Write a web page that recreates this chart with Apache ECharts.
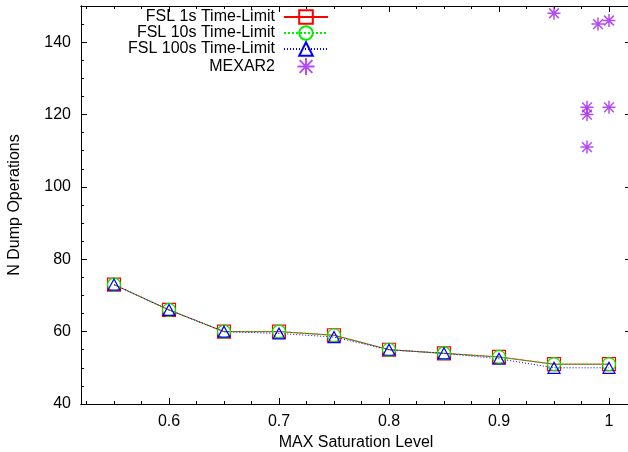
<!DOCTYPE html>
<html>
<head>
<meta charset="utf-8">
<script src="https://cdn.jsdelivr.net/npm/echarts@6/dist/echarts.min.js"></script>
<style>
  html, body { margin: 0; padding: 0; background: #fff; }
  #chart { width: 628px; height: 452px; }
</style>
</head>
<body>
<div id="chart"></div>
<script>
// saturation levels
var xValues = [0.55, 0.6, 0.65, 0.7, 0.75, 0.8, 0.85, 0.9, 0.95, 1];
var fsl1s   = [73, 66, 60, 60, 59, 55, 54, 53, 51, 51];
var fsl10s  = [73, 66, 60, 60, 59, 55, 54, 53, 51, 51];
var fsl100s = [73, 66, 60, 59.5, 58.5, 55, 54, 52.5, 50, 50];

var mexarX = [0.95, 0.98, 0.98, 0.98, 0.99, 1, 1];
var mexarY = [148, 122, 120, 111, 145, 146, 122];

var xMajorTicks = [0.6, 0.7, 0.8, 0.9, 1];
var xMinorTicks = [0.525, 0.55, 0.575, 0.625, 0.65, 0.675, 0.725, 0.75, 0.775,
    0.825, 0.85, 0.875, 0.925, 0.95, 0.975, 1.0];
var yMajorTicks = [40, 60, 80, 100, 120, 140];

var FONT = 'Liberation Sans, Arial, sans-serif';

function pairs(xs, ys) {
    var out = [];
    for (var i = 0; i < xs.length; i++) out.push([xs[i], ys[i]]);
    return out;
}

function xAxisDef(pos, ticks, len, showLabel) {
    return {
        type: 'value', position: pos, offset: 0,
        min: 0.52, max: 1.02,
        axisLine: { show: true, lineStyle: { color: '#000', width: 1 } },
        axisTick: { show: true, inside: true, length: len, customValues: ticks,
            lineStyle: { color: '#000' } },
        axisLabel: { show: showLabel, customValues: xMajorTicks, margin: 10,
            color: '#000', fontSize: 16, fontFamily: FONT },
        splitLine: { show: false }
    };
}

function yAxisDef(pos, len, showLabel, minor) {
    var ax = {
        type: 'value', position: pos, offset: 0,
        min: 40, max: 150,
        axisLine: { show: true, lineStyle: { color: '#000', width: 1 } },
        axisTick: { show: true, inside: true, length: len, lineStyle: { color: '#000' } },
        axisLabel: { show: showLabel, customValues: yMajorTicks, margin: 10,
            color: '#000', fontSize: 16, fontFamily: FONT },
        splitLine: { show: false }
    };
    if (minor) ax.interval = 5;
    else ax.axisTick.customValues = yMajorTicks;
    return ax;
}

var myChart = echarts.init(document.getElementById('chart'));

var xMain = xAxisDef('bottom', xMajorTicks, 6, true);
xMain.name = 'MAX Saturation Level';
xMain.nameLocation = 'middle';
xMain.nameGap = 33;
xMain.nameTextStyle = { color: '#000', fontSize: 16, fontFamily: FONT, lineHeight: 12 };

var yMain = yAxisDef('left', 6, true, false);
yMain.name = 'N Dump Operations';
yMain.nameLocation = 'middle';
yMain.nameGap = 58;
yMain.nameTextStyle = { color: '#000', fontSize: 16, fontFamily: FONT };

var option = {
    animation: false,
    backgroundColor: '#fff',
    grid: { left: 81, right: -3, top: 6, bottom: 48, outerBoundsMode: 'none' },
    legend: {
        orient: 'vertical',
        right: 299, top: 9,
        padding: 0,
        align: 'right',
        itemWidth: 44, itemHeight: 17, itemGap: 0,
        selectedMode: false,
        textStyle: { color: '#000', fontSize: 16, fontFamily: FONT, lineHeight: 16,
            padding: [0, 4, 0, 0] },
        data: ['FSL 1s Time-Limit', 'FSL 10s Time-Limit', 'FSL 100s Time-Limit', 'MEXAR2']
    },
    xAxis: [
        xMain,
        xAxisDef('top', xMajorTicks, 6, false),
        xAxisDef('top', xMinorTicks, 3, false),
        xAxisDef('bottom', xMinorTicks, 3, false)
    ],
    yAxis: [
        yMain,
        yAxisDef('right', 6, false, false),
        yAxisDef('left', 3, false, true)
    ],
    series: [{
        name: 'FSL 1s Time-Limit',
        type: 'line',
        data: pairs(xValues, fsl1s),
        symbol: 'rect', symbolSize: 13,
        lineStyle: { color: '#ff0000', width: 1 },
        itemStyle: { color: 'rgba(0,0,0,0)', borderColor: '#ff0000', borderWidth: 1.2 },
        emphasis: { disabled: true }
    }, {
        name: 'FSL 10s Time-Limit',
        type: 'line',
        data: pairs(xValues, fsl10s),
        symbol: 'circle', symbolSize: 13,
        lineStyle: { color: '#00ee00', width: 1.2, type: [2, 2] },
        itemStyle: { color: 'rgba(0,0,0,0)', borderColor: '#00ee00', borderWidth: 1.2 },
        emphasis: { disabled: true }
    }, {
        name: 'FSL 100s Time-Limit',
        type: 'line',
        data: pairs(xValues, fsl100s),
        symbol: 'triangle', symbolSize: [12, 11],
        lineStyle: { color: '#0000ff', width: 1, type: [1, 2] },
        itemStyle: { color: 'rgba(0,0,0,0)', borderColor: '#0000ff', borderWidth: 1.2 },
        emphasis: { disabled: true }
    }, {
        name: 'MEXAR2',
        type: 'scatter',
        data: pairs(mexarX, mexarY),
        symbol: 'path://M0,-1L0,1M-1,0L1,0M-0.75,-0.75L0.75,0.75M-0.75,0.75L0.75,-0.75',
        symbolSize: 13,
        itemStyle: { color: 'rgba(0,0,0,0)', borderColor: '#a020f0', borderWidth: 1.5 },
        emphasis: { disabled: true }
    }]
};
myChart.setOption(option);
</script>
</body>
</html>
